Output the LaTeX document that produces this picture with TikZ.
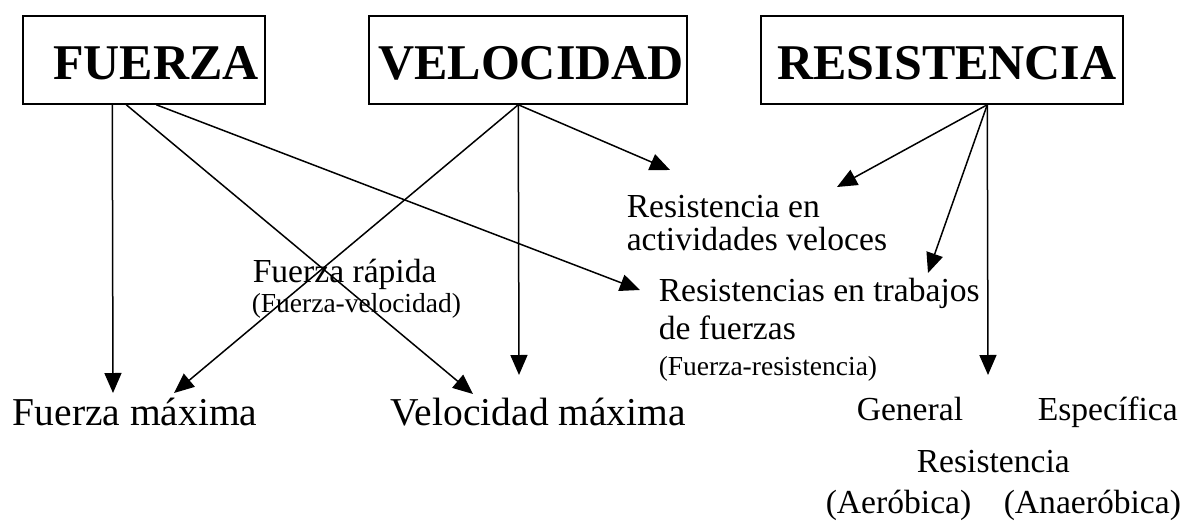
\documentclass[tikz,border=0pt]{standalone}
\usepackage{fontspec}
\setmainfont{Liberation Serif}
\usetikzlibrary{arrows.meta}

\tikzset{
  box/.style={draw, inner sep=0pt, minimum height=88pt},
  title/.style={font=\fontsize{50}{60}\selectfont\bfseries, inner sep=0pt, anchor=base},
  big/.style={font=\fontsize{39.5}{47}\selectfont, inner sep=0pt, anchor=base west},
  mid/.style={font=\fontsize{33.6}{40}\selectfont, inner sep=0pt, anchor=base west},
  block/.style={inner sep=0pt, anchor=north west, align=left},
  small/.style={font=\fontsize{27.5}{33}\selectfont, inner sep=0pt, anchor=base west}
}

\begin{document}
\begin{tikzpicture}[x=1pt,y=-1pt,line width=1.5pt,>={Triangle[length=20pt,width=17pt]}]
				\useasboundingbox (0,0) rectangle (1180,527);

				% Draw boxes
				\node[box, minimum width=242pt] (fuerza) at (144,60) {};
				\node[box, minimum width=318pt] (velocidad) at (528,60) {};
				\node[box, minimum width=362pt] (resistencia) at (942,60) {};

				% Box titles
				\node[title] (tfuerza) at (156,79) {FUERZA};
				\node[title] (tvelocidad) at (531,79) {VELOCIDAD};
				\node[title] (tresistencia) at (947,79) {RESISTENCIA};

				% Labels
				\node[big] (fmax) at (12,425) {Fuerza máxima};
				\node[big] (vmax) at (390,425) {Velocidad máxima};
				\node[mid] (frap) at (252,282) {Fuerza rápida};
				\node[small] (frapsub) at (251,312) {(Fuerza-velocidad)};
				\node[block, font=\fontsize{33.6}{33}\selectfont] (ract) at (626,195)
					{Resistencia en\\actividades veloces};
				\node[block, font=\fontsize{33.6}{38}\selectfont] (rtrab) at (658,277)
					{Resistencias en trabajos\\de fuerzas};
				\node[small] (rtrabsub) at (658,375) {(Fuerza-resistencia)};
				\node[mid] (rgen) at (856,420) {General};
				\node[mid] (resp) at (1037,420) {Específica};
				\node[mid] (rres) at (916,472) {Resistencia};
				\node[mid] (raer) at (825,513) {(Aeróbica)};
				\node[mid] (rana) at (1003,513) {(Anaeróbica)};

				% Arrow tips
				\coordinate (fmaxA) at (113,393);
				\coordinate (fmaxB) at (174,393);
				\coordinate (vmaxA) at (473,394);
				\coordinate (vmaxB) at (519,375);
				\coordinate (ractA) at (670,170);
				\coordinate (ractB) at (837,187);
				\coordinate (rtrabA) at (640,290);
				\coordinate (rtrabB) at (928,273);
				\coordinate (rtipo) at (988,375);

				% Arrows from each box
				\foreach \dx/\tip in {90/fmaxA,104/vmaxA,134/rtrabA}
					\draw[->] ([xshift=\dx pt]fuerza.south west) -- (\tip);
				\foreach \tip in {fmaxB,vmaxB,ractA}
					\draw[->] ([xshift=150pt]velocidad.south west) -- (\tip);
				\foreach \tip in {ractB,rtrabB,rtipo}
					\draw[->] ([xshift=227pt]resistencia.south west) -- (\tip);
			\end{tikzpicture}
\end{document}
